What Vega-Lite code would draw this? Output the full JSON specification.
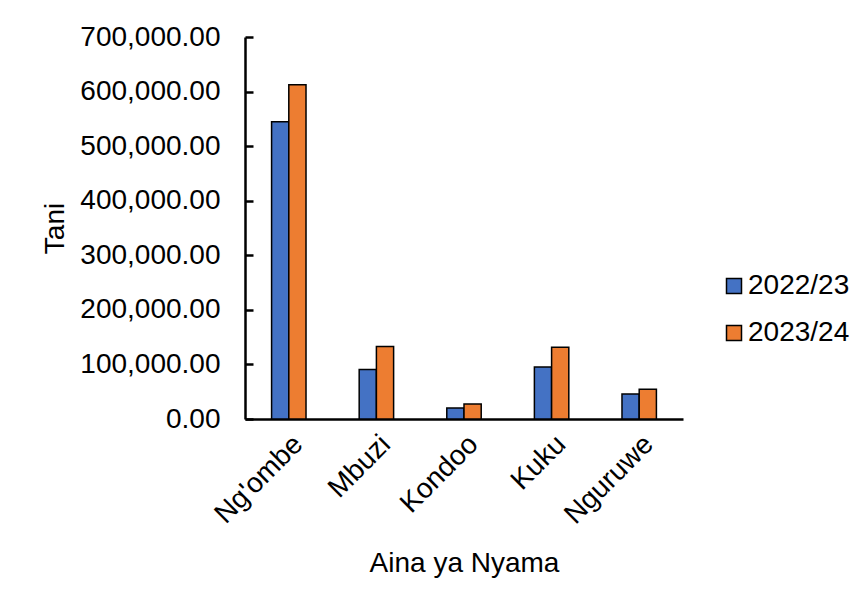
{
  "$schema": "https://vega.github.io/schema/vega-lite/v6.json",
  "autosize": "none",
  "width": 438,
  "height": 382,
  "padding": {"left": 245, "top": 37, "right": 184, "bottom": 187},
  "background": "white",
  "data": {
    "values": [
      {"aina": "Ng'ombe", "mwaka": "2022/23", "tani": 544700},
      {"aina": "Ng'ombe", "mwaka": "2023/24", "tani": 612600},
      {"aina": "Mbuzi", "mwaka": "2022/23", "tani": 90500},
      {"aina": "Mbuzi", "mwaka": "2023/24", "tani": 132700},
      {"aina": "Kondoo", "mwaka": "2022/23", "tani": 20200},
      {"aina": "Kondoo", "mwaka": "2023/24", "tani": 27500},
      {"aina": "Kuku", "mwaka": "2022/23", "tani": 95400},
      {"aina": "Kuku", "mwaka": "2023/24", "tani": 131400},
      {"aina": "Nguruwe", "mwaka": "2022/23", "tani": 45900},
      {"aina": "Nguruwe", "mwaka": "2023/24", "tani": 54400}
    ]
  },
  "mark": {"type": "bar", "stroke": "black", "strokeWidth": 1.5},
  "encoding": {
    "x": {
      "field": "aina",
      "type": "nominal",
      "sort": ["Ng'ombe", "Mbuzi", "Kondoo", "Kuku", "Nguruwe"],
      "scale": {"paddingInner": 0.607, "paddingOuter": 0.3035},
      "axis": {
        "title": "Aina ya Nyama",
        "labelAngle": -45,
        "ticks": false,
        "labelPadding": 11,
        "titlePadding": 20
      }
    },
    "xOffset": {"field": "mwaka", "type": "nominal", "scale": {"paddingInner": 0, "paddingOuter": 0}},
    "y": {
      "field": "tani",
      "type": "quantitative",
      "scale": {"domain": [0, 700000], "nice": false},
      "axis": {
        "title": "Tani",
        "values": [0, 100000, 200000, 300000, 400000, 500000, 600000, 700000],
        "format": ",.2f",
        "grid": false,
        "ticks": true,
        "tickSize": -8,
        "tickWidth": 2.5,
        "tickColor": "black",
        "labelPadding": 33,
        "titlePadding": 10
      }
    },
    "color": {
      "field": "mwaka",
      "type": "nominal",
      "scale": {"range": ["#4472C4", "#ED7D31"]},
      "legend": {
        "title": null,
        "orient": "none",
        "legendX": 475,
        "legendY": 235,
        "symbolType": "square",
        "symbolSize": 225,
        "symbolStrokeColor": "black",
        "symbolStrokeWidth": 1.5,
        "symbolOpacity": 1,
        "labelFontSize": 28,
        "labelOffset": 0,
        "rowPadding": 19,
        "padding": 0
      }
    }
  },
  "config": {
    "font": "Liberation Sans",
    "view": {"stroke": null},
    "axis": {
      "domainColor": "black",
      "domainWidth": 2.5,
      "labelColor": "black",
      "titleColor": "black",
      "labelFontSize": 28,
      "titleFontSize": 28,
      "titleFontWeight": "normal",
      "labelFont": "Liberation Sans",
      "titleFont": "Liberation Sans"
    },
    "legend": {"labelColor": "black", "labelFont": "Liberation Sans"}
  }
}
